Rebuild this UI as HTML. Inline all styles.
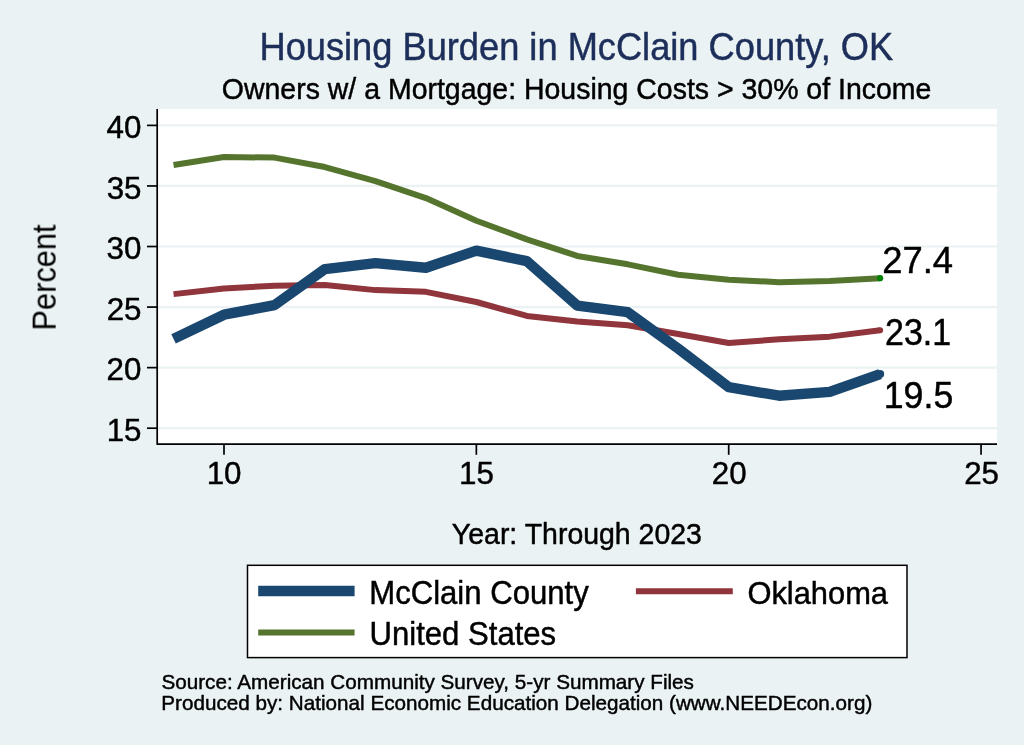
<!DOCTYPE html>
<html><head><meta charset="utf-8"><style>
html,body{margin:0;padding:0;background:#eaf2f3;}
svg{display:block;} text{will-change:transform;}
</style></head><body>
<svg width="1024" height="745" viewBox="0 0 1024 745">
<rect x="0" y="0" width="1024" height="745" fill="#eaf2f3"/>
<rect x="157" y="109" width="840" height="335.5" fill="#fff"/>
<line x1="158" x2="997" y1="428.20" y2="428.20" stroke="#eaf2f3" stroke-width="2.2"/>
<line x1="158" x2="997" y1="367.64" y2="367.64" stroke="#eaf2f3" stroke-width="2.2"/>
<line x1="158" x2="997" y1="307.08" y2="307.08" stroke="#eaf2f3" stroke-width="2.2"/>
<line x1="158" x2="997" y1="246.52" y2="246.52" stroke="#eaf2f3" stroke-width="2.2"/>
<line x1="158" x2="997" y1="185.96" y2="185.96" stroke="#eaf2f3" stroke-width="2.2"/>
<line x1="158" x2="997" y1="125.40" y2="125.40" stroke="#eaf2f3" stroke-width="2.2"/>
<path d="M157.2,109 L157.2,444.2 L997,444.2" fill="none" stroke="#000" stroke-width="1.7" stroke-linejoin="round"/>
<line x1="147" x2="157.2" y1="428.20" y2="428.20" stroke="#000" stroke-width="1.7"/>
<text transform="translate(106.68,440.80) scale(0.31330,0.31850)" font-size="100" fill="#000" stroke="#000" stroke-width="1.436" stroke-linejoin="round" font-family="Liberation Sans, sans-serif">15</text>
<line x1="147" x2="157.2" y1="367.64" y2="367.64" stroke="#000" stroke-width="1.7"/>
<text transform="translate(106.60,380.24) scale(0.31330,0.31850)" font-size="100" fill="#000" stroke="#000" stroke-width="1.436" stroke-linejoin="round" font-family="Liberation Sans, sans-serif">20</text>
<line x1="147" x2="157.2" y1="307.08" y2="307.08" stroke="#000" stroke-width="1.7"/>
<text transform="translate(106.68,319.68) scale(0.31330,0.31850)" font-size="100" fill="#000" stroke="#000" stroke-width="1.436" stroke-linejoin="round" font-family="Liberation Sans, sans-serif">25</text>
<line x1="147" x2="157.2" y1="246.52" y2="246.52" stroke="#000" stroke-width="1.7"/>
<text transform="translate(106.60,259.12) scale(0.31330,0.31850)" font-size="100" fill="#000" stroke="#000" stroke-width="1.436" stroke-linejoin="round" font-family="Liberation Sans, sans-serif">30</text>
<line x1="147" x2="157.2" y1="185.96" y2="185.96" stroke="#000" stroke-width="1.7"/>
<text transform="translate(106.68,198.56) scale(0.31330,0.31850)" font-size="100" fill="#000" stroke="#000" stroke-width="1.436" stroke-linejoin="round" font-family="Liberation Sans, sans-serif">35</text>
<line x1="147" x2="157.2" y1="125.40" y2="125.40" stroke="#000" stroke-width="1.7"/>
<text transform="translate(106.60,138.00) scale(0.31330,0.31850)" font-size="100" fill="#000" stroke="#000" stroke-width="1.436" stroke-linejoin="round" font-family="Liberation Sans, sans-serif">40</text>
<line x1="224.00" x2="224.00" y1="444.2" y2="454.8" stroke="#000" stroke-width="1.7"/>
<text transform="translate(206.65,483.80) scale(0.31380,0.31418)" font-size="100" fill="#000" stroke="#000" stroke-width="1.434" stroke-linejoin="round" font-family="Liberation Sans, sans-serif">10</text>
<line x1="476.35" x2="476.35" y1="444.2" y2="454.8" stroke="#000" stroke-width="1.7"/>
<text transform="translate(459.03,483.80) scale(0.31380,0.31418)" font-size="100" fill="#000" stroke="#000" stroke-width="1.434" stroke-linejoin="round" font-family="Liberation Sans, sans-serif">15</text>
<line x1="728.70" x2="728.70" y1="444.2" y2="454.8" stroke="#000" stroke-width="1.7"/>
<text transform="translate(711.74,483.80) scale(0.31380,0.31418)" font-size="100" fill="#000" stroke="#000" stroke-width="1.434" stroke-linejoin="round" font-family="Liberation Sans, sans-serif">20</text>
<line x1="981.05" x2="981.05" y1="444.2" y2="454.8" stroke="#000" stroke-width="1.7"/>
<text transform="translate(964.13,483.80) scale(0.31380,0.31418)" font-size="100" fill="#000" stroke="#000" stroke-width="1.434" stroke-linejoin="round" font-family="Liberation Sans, sans-serif">25</text>
<path d="M173.53,165.01 L224.00,157.01 L274.47,157.62 L324.94,167.07 L375.41,181.12 L425.88,198.07 L476.35,220.72 L526.82,239.37 L577.29,255.97 L627.76,264.32 L678.23,274.74 L728.70,279.71 L779.17,282.13 L829.64,280.92 L880.11,278.13" fill="none" stroke="#55752f" stroke-width="6" stroke-linejoin="round"/>
<path d="M173.53,294.12 L224.00,288.55 L274.47,285.64 L324.94,284.92 L375.41,290.12 L425.88,291.82 L476.35,301.99 L526.82,315.92 L577.29,321.49 L627.76,325.25 L678.23,333.97 L728.70,343.05 L779.17,339.30 L829.64,336.63 L880.11,330.34" fill="none" stroke="#90353b" stroke-width="6" stroke-linejoin="round"/>
<circle cx="880.11" cy="330.34" r="3.0" fill="#90353b"/>
<path d="M173.53,338.93 L224.00,314.71 L274.47,305.14 L324.94,269.05 L375.41,263.11 L425.88,267.72 L476.35,250.64 L526.82,261.18 L577.29,305.63 L627.76,312.17 L678.23,348.62 L728.70,387.14 L779.17,395.74 L829.64,391.86 L880.11,374.06" fill="none" stroke="#1a476f" stroke-width="10.4" stroke-linejoin="round"/>
<circle cx="880.11" cy="374.06" r="4.1" fill="#1a476f"/>
<circle cx="880.11" cy="278.13" r="3.1" fill="#008000"/>
<text transform="translate(882.14,272.80) scale(0.36434,0.36218)" font-size="100" fill="#000" stroke="#000" stroke-width="1.235" stroke-linejoin="round" font-family="Liberation Sans, sans-serif">27.4</text>
<text transform="translate(885.10,344.80) scale(0.33938,0.36509)" font-size="100" fill="#000" stroke="#000" stroke-width="1.326" stroke-linejoin="round" font-family="Liberation Sans, sans-serif">23.1</text>
<text transform="translate(883.72,407.60) scale(0.35738,0.36073)" font-size="100" fill="#000" stroke="#000" stroke-width="1.259" stroke-linejoin="round" font-family="Liberation Sans, sans-serif">19.5</text>
<text transform="translate(259.46,59.80) scale(0.36249,0.38255)" font-size="100" fill="#1c2e59" stroke="#1c2e59" stroke-width="1.241" stroke-linejoin="round" font-family="Liberation Sans, sans-serif">Housing Burden in McClain County, OK</text>
<text transform="translate(221.85,98.80) scale(0.28469,0.29964)" font-size="100" fill="#000" stroke="#000" stroke-width="1.581" stroke-linejoin="round" font-family="Liberation Sans, sans-serif">Owners w/ a Mortgage: Housing Costs &gt; 30% of Income</text>
<text transform="translate(55.9,330.54) rotate(-90) scale(0.30790,0.33236)" font-size="100" font-family="Liberation Sans, sans-serif">Percent</text>
<text transform="translate(451.86,544.00) scale(0.28486,0.30400)" font-size="100" fill="#000" stroke="#000" stroke-width="1.580" stroke-linejoin="round" font-family="Liberation Sans, sans-serif">Year: Through 2023</text>
<rect x="247.5" y="565.3" width="659.5" height="92.3" fill="#fff" stroke="#000" stroke-width="1.5"/>
<line x1="258.2" x2="354.6" y1="591" y2="591" stroke="#1a476f" stroke-width="10.6"/>
<line x1="635.9" x2="732.8" y1="591.2" y2="591.2" stroke="#90353b" stroke-width="6"/>
<line x1="258.2" x2="354.6" y1="632.4" y2="632.4" stroke="#55752f" stroke-width="6"/>
<text transform="translate(369.23,604.00) scale(0.31122,0.33164)" font-size="100" fill="#000" stroke="#000" stroke-width="1.446" stroke-linejoin="round" font-family="Liberation Sans, sans-serif">McClain County</text>
<text transform="translate(747.43,603.90) scale(0.30865,0.31172)" font-size="100" fill="#000" stroke="#000" stroke-width="1.458" stroke-linejoin="round" font-family="Liberation Sans, sans-serif">Oklahoma</text>
<text transform="translate(369.59,645.00) scale(0.31087,0.33018)" font-size="100" fill="#000" stroke="#000" stroke-width="1.448" stroke-linejoin="round" font-family="Liberation Sans, sans-serif">United States</text>
<text transform="translate(161.47,688.70) scale(0.20683,0.20945)" font-size="100" fill="#000" stroke="#000" stroke-width="2.176" stroke-linejoin="round" font-family="Liberation Sans, sans-serif">Source: American Community Survey, 5-yr Summary Files</text>
<text transform="translate(161.34,709.50) scale(0.20679,0.20945)" font-size="100" fill="#000" stroke="#000" stroke-width="2.176" stroke-linejoin="round" font-family="Liberation Sans, sans-serif">Produced by: National Economic Education Delegation (www.NEEDEcon.org)</text>
</svg>
</body></html>
